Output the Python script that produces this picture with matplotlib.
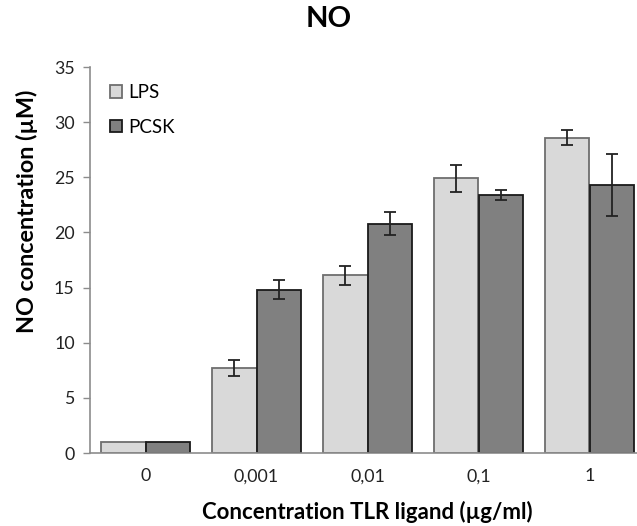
import numpy as np
import matplotlib.pyplot as plt

plt.rcParams['font.family'] = ['Lato', 'DejaVu Sans']

# NO production per TLR ligand concentration
concentrations = ["0", "0,001", "0,01", "0,1", "1"]
lps_mean = [1.0, 7.7, 16.1, 24.9, 28.6]
lps_err = [0.0, 0.7, 0.87, 1.24, 0.7]
pcsk_mean = [1.0, 14.8, 20.8, 23.4, 24.3]
pcsk_err = [0.0, 0.85, 1.03, 0.45, 2.8]

x = np.arange(len(concentrations))
width = 0.4

fig = plt.figure(figsize=(6.37, 5.26), dpi=100)
# plot area runs a little past the right edge of the figure
ax = fig.add_axes([90 / 637, 73 / 526, 555 / 637, 386 / 526])

lps_bars = ax.bar(x - width / 2, lps_mean, width, color="#d9d9d9",
                  edgecolor="#6e6e6e", linewidth=1.3, label="LPS", zorder=2)
pcsk_bars = ax.bar(x + width / 2, pcsk_mean, width, color="#808080",
                   edgecolor="#1a1a1a", linewidth=1.3, label="PCSK", zorder=2)

err_kw = dict(fmt="none", ecolor="#222222", elinewidth=1.3, capsize=4,
              capthick=1.3, zorder=3)
ax.errorbar(x[1:] - width / 2, lps_mean[1:], yerr=lps_err[1:], **err_kw)
ax.errorbar(x[1:] + width / 2, pcsk_mean[1:], yerr=pcsk_err[1:], **err_kw)

ax.set_xlim(-0.5, 4.5)
ax.set_ylim(0, 35)
ax.set_yticks(np.arange(0, 36, 5))
ax.set_xticks(x)
ax.set_xticklabels(concentrations)

for side in ["top", "right"]:
    ax.spines[side].set_visible(False)
for side in ["left", "bottom"]:
    ax.spines[side].set_color("#8c8c8c")
    ax.spines[side].set_linewidth(1.2)

ax.tick_params(axis="y", direction="out", length=5, width=1, color="#8c8c8c",
               labelsize=12.8, pad=6, labelcolor="#222222")
ax.tick_params(axis="x", length=0, labelsize=12.8, pad=11, labelcolor="#222222")

ax.set_ylabel("NO concentration (µM)", fontsize=16.8, fontweight="bold")
ax.yaxis.set_label_coords(-0.093, 0.627)
ax.set_xlabel("Concentration TLR ligand (µg/ml)", fontsize=16, fontweight="bold")
ax.xaxis.set_label_coords(0.5, -0.125)
fig.text(329 / 637, 1 - 19 / 526, "NO", fontsize=21, fontweight="bold",
         ha="center", va="center")

ax.legend(handles=[lps_bars, pcsk_bars], loc="upper left", frameon=False,
          bbox_to_anchor=(0.005, 1.0), fontsize=13.5, handlelength=0.65,
          handleheight=0.65, handletextpad=0.35, labelspacing=0.95)

fig.savefig("out.png", dpi=100)
